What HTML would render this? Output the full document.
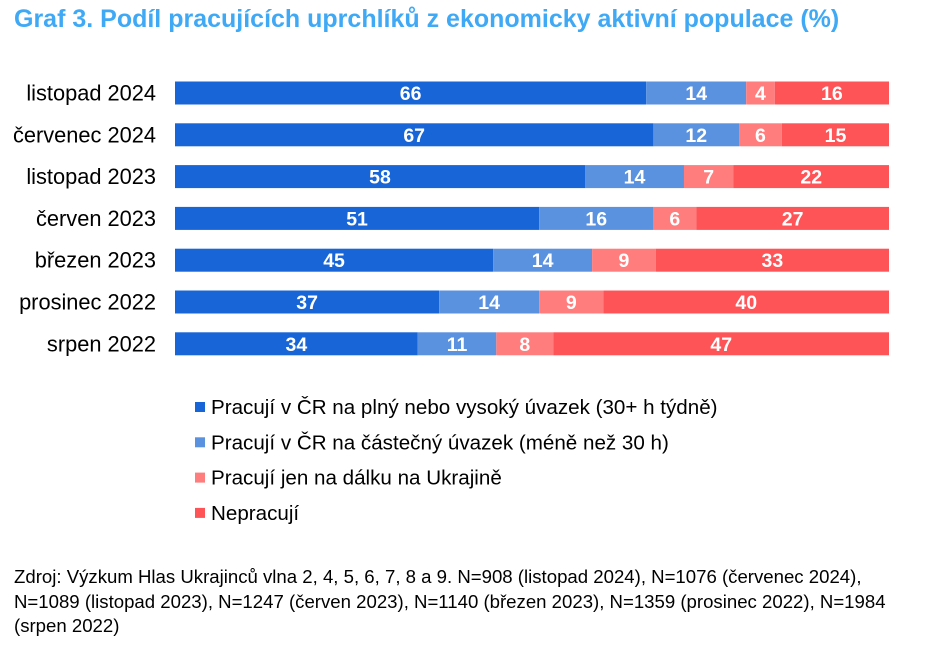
<!DOCTYPE html>
<html><head><meta charset="utf-8"><style>
body{margin:0;background:#fff;width:943px;height:646px;overflow:hidden;font-family:"Liberation Sans",sans-serif;}
#title{position:absolute;left:14px;top:5px;font-size:25px;font-weight:bold;color:#3fa9f5;white-space:nowrap;}
#src{position:absolute;left:14px;top:565px;font-size:18.6px;line-height:24.5px;color:#000;width:920px;white-space:nowrap;}
svg{position:absolute;left:0;top:0}
</style></head><body>
<div id="title">Graf 3. Podíl pracujících uprchlíků z ekonomicky aktivní populace (%)</div>
<svg id="chart" width="943" height="646"></svg>
<div id="src">Zdroj: Výzkum Hlas Ukrajinců vlna 2, 4, 5, 6, 7, 8 a 9. N=908 (listopad 2024), N=1076 (červenec 2024),<br>N=1089 (listopad 2023), N=1247 (červen 2023), N=1140 (březen 2023), N=1359 (prosinec 2022), N=1984<br>(srpen 2022)</div>
<script>
const categories=["listopad 2024","červenec 2024","listopad 2023","červen 2023","březen 2023","prosinec 2022","srpen 2022"];
const fullTime=[66,67,58,51,45,37,34];
const partTime=[14,12,14,16,14,14,11];
const remote=[4,6,7,6,9,9,8];
const notWorking=[16,15,22,27,33,40,47];
const seriesNames=["Pracují v ČR na plný nebo vysoký úvazek (30+ h týdně)","Pracují v ČR na částečný úvazek (méně než 30 h)","Pracují jen na dálku na Ukrajině","Nepracují"];
const series=[fullTime,partTime,remote,notWorking];
const colors=["#1765d6","#5a92e0","#ff7d7d","#ff5457"];
const NS="http://www.w3.org/2000/svg";
const svg=document.getElementById("chart");
const x0=175,x1=889;
const xs=(v,tot)=>x0+(x1-x0)*v/tot;
const ys=i=>93+i*41.8;
const bh=23;
function mk(t,a){const e=document.createElementNS(NS,t);for(const k in a)e.setAttribute(k,a[k]);svg.appendChild(e);return e;}
categories.forEach((c,i)=>{
  const lab=mk("text",{x:156,y:ys(i)+7.5,"text-anchor":"end","font-size":"21.8","fill":"#000"});
  lab.textContent=c;
  
  
  const tot=series.reduce((a,s)=>a+s[i],0);
  let cum=0;
  series.forEach((s,j)=>{
    const v=s[i];
    const r=mk("rect",{x:xs(cum,tot),y:ys(i)-bh/2,width:xs(cum+v,tot)-xs(cum,tot),height:bh,fill:colors[j]});
    
    
    const t=mk("text",{x:(xs(cum,tot)+xs(cum+v,tot))/2,y:ys(i)+7,"text-anchor":"middle","font-size":"19.5","font-weight":"bold","fill":"#fff"});
    t.textContent=v;
    
    
    cum+=v;
  });
});
seriesNames.forEach((n,j)=>{
  const y=407+j*35.3;
  const r=mk("rect",{x:195,y:y-5,width:10,height:10,fill:colors[j]});
  
  
  const t=mk("text",{x:211,y:y+7,"font-size":"20.6","fill":"#000"});
  t.textContent=n;
  
  
});
</script>
</body></html>
